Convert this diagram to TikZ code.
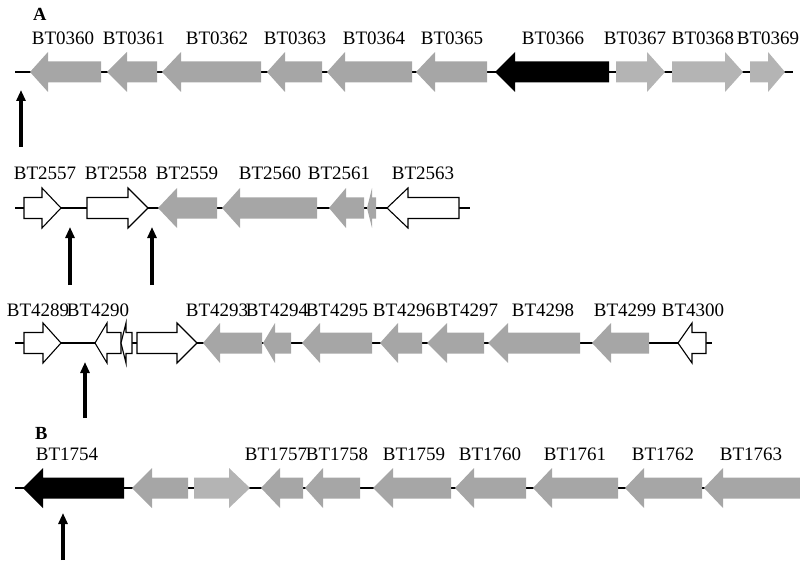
\documentclass[tikz,border=0pt]{standalone}
\usepackage{fontspec}
\setmainfont{Liberation Serif}
\usetikzlibrary{arrows.meta}
\definecolor{gg}{HTML}{A6A6A6}
\definecolor{lg}{HTML}{B4B4B4}
\tikzset{
  lab/.style={font=\fontsize{19}{20}\selectfont, anchor=base, inner sep=0pt},
  panel/.style={font=\fontsize{18.5}{19}\selectfont\bfseries, anchor=base west, inner sep=0pt},
  backbone/.style={line width=2.8pt},
  gray gene/.style={fill=gg},
  light gene/.style={fill=lg},
  black gene/.style={fill=black},
  white gene/.style={fill=white, draw=black, line width=1.1pt, line join=miter},
  pointer/.style={line width=3.2pt, -{Triangle[width=9pt,length=11pt]}},
}
% \gene[style]{y}{tip}{head base}{tail}
\newcommand{\gene}[5][gray gene]{%
  \path[#1] (#3,#2) -- (#4,#2-20) -- (#4,#2-10.5) -- (#5,#2-10.5) -- (#5,#2+10.5) -- (#4,#2+10.5) -- (#4,#2+20) -- cycle;}
\begin{document}
\begin{tikzpicture}[x=1pt,y=-1pt]
\useasboundingbox (0,0) rectangle (800,564);
% ---------- Row 1 ----------
\node[panel] (pA) at (33,21) {A};
\draw[backbone] (15,72) -- (793,72);
\gene{72}{30}{48}{101}
\gene{72}{107}{127}{157}
\gene{72}{162}{181}{261}
\gene{72}{267}{285}{322}
\gene{72}{327}{345}{412}
\gene{72}{416}{435}{487}
\gene[black gene]{72}{495}{515}{609}
\gene[light gene]{72}{665}{647}{616}
\gene[light gene]{72}{743}{725}{672}
\gene[light gene]{72}{785}{768}{750}
\node[lab] (l0360) at (63,45) {BT0360};
\node[lab] (l0361) at (134,45) {BT0361};
\node[lab] (l0362) at (217,45) {BT0362};
\node[lab] (l0363) at (295,45) {BT0363};
\node[lab] (l0364) at (374,45) {BT0364};
\node[lab] (l0365) at (452,45) {BT0365};
\node[lab] (l0366) at (553,45) {BT0366};
\node[lab] (l0367) at (635,45) {BT0367};
\node[lab] (l0368) at (703,45) {BT0368};
\node[lab] (l0369) at (768,45) {BT0369};
\coordinate (a1s) at (21,147);
\coordinate (a1e) at (21,90);
\draw[pointer] (a1s) -- (a1e);
% ---------- Row 2 ----------
\draw[backbone] (15,208) -- (470,208);
\gene[white gene]{208}{61}{42}{24}
\gene[white gene]{208}{148}{128}{87}
\gene{208}{158}{177}{217}
\gene{208}{222}{240}{317}
\gene{208}{329}{346}{364}
\gene{208}{367}{372}{376}
\gene[white gene]{208}{387}{408}{459}
\node[lab] (l2557) at (45,179) {BT2557};
\node[lab] (l2558) at (116,179) {BT2558};
\node[lab] (l2559) at (187,179) {BT2559};
\node[lab] (l2560) at (270,179) {BT2560};
\node[lab] (l2561) at (339,179) {BT2561};
\node[lab] (l2563) at (423,179) {BT2563};
\coordinate (a2s) at (70,285);
\coordinate (a2e) at (70,227);
\draw[pointer] (a2s) -- (a2e);
\coordinate (a3s) at (152,285);
\coordinate (a3e) at (152,227);
\draw[pointer] (a3s) -- (a3e);
% ---------- Row 3 ----------
\draw[backbone] (15,343) -- (712,343);
\gene[white gene]{343}{61}{43}{24}
\gene[white gene]{343}{95}{107}{121}
\gene[white gene]{343}{121}{126}{132}
\gene[white gene]{343}{197}{177}{137}
\gene{343}{203}{220}{262}
\gene{343}{263}{275}{291}
\gene{343}{302}{320}{372}
\gene{343}{380}{398}{422}
\gene{343}{427}{447}{484}
\gene{343}{488}{508}{580}
\gene{343}{592}{611}{649}
\gene[white gene]{343}{678}{692}{706}
\node[lab] (l4289) at (38,316) {BT4289};
\node[lab] (l4290) at (98,316) {BT4290};
\node[lab] (l4293) at (217,316) {BT4293};
\node[lab] (l4294) at (277,316) {BT4294};
\node[lab] (l4295) at (337,316) {BT4295};
\node[lab] (l4296) at (404,316) {BT4296};
\node[lab] (l4297) at (467,316) {BT4297};
\node[lab] (l4298) at (543,316) {BT4298};
\node[lab] (l4299) at (625,316) {BT4299};
\node[lab] (l4300) at (693,316) {BT4300};
\coordinate (a4s) at (85,418);
\coordinate (a4e) at (85,362);
\draw[pointer] (a4s) -- (a4e);
% ---------- Row 4 ----------
\node[panel] (pB) at (35,439) {B};
\draw[backbone] (15,488) -- (800,488);
\gene[black gene]{488}{23}{43}{124}
\gene{488}{132}{152}{188}
\gene[light gene]{488}{250}{229}{194}
\gene{488}{261}{280}{303}
\gene{488}{305}{323}{360}
\gene{488}{373}{393}{451}
\gene{488}{455}{474}{526}
\gene{488}{533}{552}{618}
\gene{488}{625}{644}{702}
\gene{488}{704}{723}{800}
\node[lab] (l1754) at (67,460) {BT1754};
\node[lab] (l1757) at (276,460) {BT1757};
\node[lab] (l1758) at (337,460) {BT1758};
\node[lab] (l1759) at (414,460) {BT1759};
\node[lab] (l1760) at (490,460) {BT1760};
\node[lab] (l1761) at (575,460) {BT1761};
\node[lab] (l1762) at (663,460) {BT1762};
\node[lab] (l1763) at (751,460) {BT1763};
\coordinate (a5s) at (63,560);
\coordinate (a5e) at (63,513);
\draw[pointer] (a5s) -- (a5e);
\end{tikzpicture}
\end{document}
